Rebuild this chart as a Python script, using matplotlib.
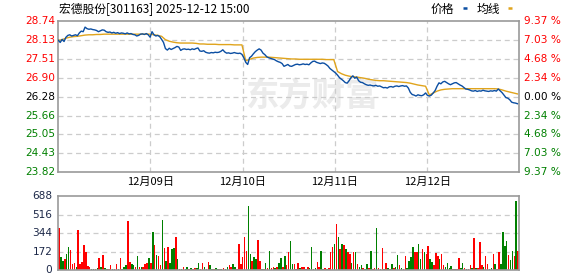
import numpy as np
import matplotlib
matplotlib.use('Agg')
import matplotlib.pyplot as plt
from matplotlib.lines import Line2D

plt.rcParams['font.family'] = ['DejaVu Sans']
CJK = ['Noto Sans CJK SC', 'DejaVu Sans']

title = '宏德股份[301163] 2025-12-12 15:00'
prev_close = 26.28
price_ticks = [28.74, 28.13, 27.51, 26.90, 26.28, 25.66, 25.05, 24.43, 23.82]
pct_labels = ['9.37 %', '7.03 %', '4.68 %', '2.34 %', '0.00 %',
              '2.34 %', '4.68 %', '7.03 %', '9.37 %']
vol_ticks = [0, 172, 344, 516, 688]
day_labels = ['12月09日', '12月10日', '12月11日', '12月12日']
mins_per_day = 241
n_days = 5

# price every 5 minutes over the 5 sessions
price = [
    28.12, 28.05, 28.15, 28.08, 28.22, 28.28, 28.30, 28.26, 28.28, 28.30,
    28.27, 28.36, 28.42, 28.40, 28.55, 28.50, 28.48, 28.49, 28.47, 28.46,
    28.44, 28.40, 28.43, 28.46, 28.45, 28.40, 28.38, 28.39, 28.36, 28.38,
    28.35, 28.37, 28.34, 28.36, 28.35, 28.33, 28.36, 28.33, 28.34, 28.31,
    28.30, 28.26, 28.28, 28.32, 28.33, 28.31, 28.34, 28.30, 28.22,
    28.40, 28.30, 28.26, 28.28, 28.24, 28.15, 28.05, 27.85, 27.80, 27.86,
    27.82, 27.85, 27.88, 27.92, 27.90, 27.79, 27.83, 27.84, 27.82, 27.83,
    27.81, 27.84, 27.82, 27.85, 27.87, 27.77, 27.76, 27.78, 27.73, 27.71,
    27.70, 27.72, 27.71, 27.73, 27.72, 27.73, 27.76, 27.81, 27.74, 27.70,
    27.71, 27.69, 27.70, 27.72, 27.70, 27.69, 27.70, 27.66,
    27.55, 27.40, 27.33, 27.55, 27.60, 27.68, 27.75, 27.80, 27.84, 27.80,
    27.70, 27.65, 27.58, 27.55, 27.53, 27.51, 27.49, 27.45, 27.42, 27.40,
    27.36, 27.27, 27.30, 27.33, 27.28, 27.27, 27.30, 27.33, 27.34, 27.32,
    27.33, 27.35, 27.33, 27.34, 27.32, 27.38, 27.43, 27.44, 27.40, 27.38,
    27.36, 27.38, 27.37, 27.33, 27.28, 27.20, 27.15, 27.10,
    27.05, 26.98, 26.90, 26.85, 26.80, 26.74, 26.72, 26.80, 26.90, 26.96,
    26.88, 26.92, 26.80, 26.75, 26.74, 26.70, 26.67, 26.65, 26.66, 26.64,
    26.63, 26.65, 26.62, 26.63, 26.60, 26.57, 26.58, 26.56, 26.60, 26.61,
    26.59, 26.62, 26.63, 26.61, 26.63, 26.64, 26.62, 26.63, 26.56, 26.42,
    26.35, 26.33, 26.30, 26.34, 26.32, 26.31, 26.34, 26.40,
    26.32, 26.30, 26.33, 26.40, 26.48, 26.62, 26.73, 26.70, 26.76, 26.78,
    26.74, 26.70, 26.67, 26.70, 26.73, 26.74, 26.70, 26.66, 26.63, 26.58,
    26.53, 26.52, 26.50, 26.47, 26.46, 26.48, 26.45, 26.47, 26.46, 26.49,
    26.47, 26.46, 26.45, 26.47, 26.46, 26.48, 26.46, 26.53, 26.47, 26.41,
    26.33, 26.25, 26.23, 26.18, 26.10, 26.08, 26.07, 26.05,
]

# average price line every 10 minutes
avg_price = [
    28.12, 28.14, 28.19, 28.22, 28.24, 28.25, 28.27, 28.29, 28.30, 28.30,
    28.31, 28.31, 28.32, 28.32, 28.32, 28.32, 28.32, 28.32, 28.32, 28.32,
    28.32, 28.32, 28.32, 28.32, 28.32,
    28.30, 28.28, 28.25, 28.14, 28.09, 28.06, 28.04, 28.03, 28.03, 28.03,
    28.03, 28.02, 28.00, 28.00, 27.99, 27.99, 27.99, 27.98, 27.98, 27.98,
    27.98, 27.97, 27.97, 27.97,
    27.45, 27.50, 27.54, 27.56, 27.57, 27.57, 27.57, 27.56, 27.55, 27.54,
    27.53, 27.52, 27.51, 27.51, 27.50, 27.50, 27.50, 27.50, 27.50, 27.50,
    27.50, 27.49, 27.49, 27.49,
    27.10, 27.03, 26.98, 26.95, 26.93, 26.92, 26.90, 26.88, 26.85, 26.83,
    26.81, 26.80, 26.80, 26.79, 26.78, 26.77, 26.76, 26.75, 26.74, 26.72,
    26.69, 26.66, 26.64, 26.62,
    26.33, 26.40, 26.46, 26.50, 26.52, 26.53, 26.54, 26.54, 26.54, 26.54,
    26.54, 26.54, 26.54, 26.54, 26.54, 26.54, 26.54, 26.54, 26.53, 26.50,
    26.46, 26.43, 26.40, 26.37,
]

# volume every 5 minutes, 1 = up (red), 0 = down (green)
volume = [
    396, 118, 86, 102, 150, 214, 191, 54, 70, 32,
    376, 54, 77, 236, 166, 38, 25, 12, 12, 12,
    15, 108, 32, 140, 20, 12, 10, 45, 10, 12,
    54, 10, 108, 10, 32, 45, 453, 77, 54, 45,
    32, 128, 32, 32, 30, 54, 64, 108, 64, 351,
    230, 140, 128, 45, 463, 204, 86, 214, 64, 198,
    204, 309, 102, 10, 12, 32, 10, 32, 10, 15,
    12, 20, 22, 70, 12, 64, 32, 10, 77, 45,
    10, 12, 15, 12, 10, 10, 20, 10, 30, 45,
    32, 54, 32, 12, 246, 54, 118, 309, 182, 597,
    150, 86, 118, 102, 278, 86, 12, 10, 70, 15,
    182, 20, 32, 15, 32, 64, 108, 32, 128, 45,
    172, 268, 54, 54, 12, 64, 20, 32, 32, 12,
    32, 15, 214, 12, 15, 77, 32, 182, 10, 15,
    12, 20, 166, 214, 246, 428, 309, 200, 240, 236,
    198, 166, 150, 70, 172, 172, 54, 32, 45, 20,
    12, 54, 20, 182, 12, 20, 396, 20, 12, 204,
    10, 61, 15, 12, 54, 20, 30, 140, 45, 15,
    12, 128, 15, 86, 118, 214, 172, 166, 246, 102,
    198, 166, 150, 223, 102, 77, 45, 160, 134, 102,
    150, 45, 30, 64, 20, 38, 10, 12, 10, 108,
    20, 64, 15, 10, 12, 45, 20, 300, 20, 15,
    262, 45, 30, 128, 54, 12, 15, 150, 54, 12,
    172, 54, 351, 223, 268, 140, 96, 182, 134, 645,
    182,
]
vol_up = [
    1, 0, 0, 1, 0, 0, 1, 1, 1, 0,
    1, 1, 1, 1, 1, 1, 1, 0, 0, 1,
    0, 1, 0, 1, 0, 0, 1, 1, 0, 1,
    1, 0, 1, 0, 0, 0, 1, 1, 0, 0,
    1, 0, 1, 0, 1, 1, 1, 0, 1, 0,
    1, 0, 1, 1, 0, 1, 0, 1, 0, 0,
    0, 1, 0, 1, 0, 1, 0, 0, 1, 0,
    1, 1, 0, 0, 1, 1, 0, 1, 1, 0,
    0, 1, 0, 0, 1, 0, 1, 0, 0, 1,
    1, 0, 0, 1, 1, 1, 1, 1, 1, 0,
    0, 1, 0, 0, 1, 1, 0, 1, 0, 1,
    0, 1, 1, 0, 1, 0, 0, 1, 0, 1,
    1, 0, 0, 1, 0, 1, 0, 1, 1, 0,
    1, 0, 0, 1, 0, 1, 1, 0, 0, 1,
    0, 1, 1, 1, 0, 1, 0, 1, 0, 1,
    0, 1, 1, 0, 1, 0, 1, 0, 0, 1,
    0, 0, 1, 0, 1, 1, 0, 1, 0, 1,
    0, 1, 0, 1, 0, 1, 0, 0, 1, 0,
    1, 1, 0, 0, 0, 0, 1, 1, 0, 0,
    1, 0, 1, 1, 0, 0, 1, 1, 1, 0,
    1, 1, 0, 0, 0, 0, 1, 0, 1, 1,
    0, 0, 1, 0, 1, 1, 0, 1, 0, 1,
    1, 1, 0, 1, 1, 0, 0, 1, 0, 1,
    1, 0, 0, 0, 0, 1, 0, 0, 1, 0,
    1,
]

W, H = 578, 276
fig = plt.figure(figsize=(W / 100, H / 100), dpi=100)


def box(x0, y0, x1, y1):
    return [x0 / W, 1 - y1 / H, (x1 - x0) / W, (y1 - y0) / H]


total = mins_per_day * n_days
t_price = np.arange(len(price)) * 5
t_avg = np.arange(len(avg_price)) * 10
day_edges = [mins_per_day * k for k in range(1, n_days)]

RED, GREEN, BLACK = '#ff0000', '#008000', '#000000'
GRID = dict(color='#cccccc', ls=(0, (4, 3)), lw=0.9)

ax = fig.add_axes(box(58.3, 21.3, 519.3, 172))
ax.plot(t_price, price, color='#0b4ea2', lw=1.0, zorder=3)
ax.plot(t_avg, avg_price, color='#e0a41c', lw=1.0, zorder=2)
ax.set_xlim(0, total)
ax.set_ylim(price_ticks[-1], price_ticks[0])
for v in price_ticks[1:-1]:
    ax.axhline(v, **GRID, zorder=1)
for e in day_edges:
    ax.axvline(e, **GRID, zorder=1)
ax.set_xticks([])
ax.set_yticks([])
for s in ax.spines.values():
    s.set_color('#999999')
    s.set_linewidth(1.2)

for v, pl in zip(price_ticks, pct_labels):
    c = RED if v > prev_close + 0.001 else (GREEN if v < prev_close - 0.001 else BLACK)
    ax.annotate(f'{v:.2f}', xy=(0, v), xycoords=('axes fraction', 'data'),
                xytext=(-3, 0), textcoords='offset pixels',
                ha='right', va='center', fontsize=7.6, color=c)
    ax.annotate(pl, xy=(1, v), xycoords=('axes fraction', 'data'),
                xytext=(5, 0), textcoords='offset pixels',
                ha='left', va='center', fontsize=7.6, color=c)

for e, lab in zip(day_edges, day_labels):
    ax.annotate(lab, xy=(e, 0), xycoords=('data', 'axes fraction'),
                xytext=(0, -10), textcoords='offset pixels',
                ha='center', va='center', fontsize=8, family=CJK)

# watermark
ax.text(0.55, 0.5, '东方财富', transform=ax.transAxes, ha='center',
        va='center', fontsize=24, fontweight='bold', color='#ebebeb',
        family=CJK, zorder=0)

vax = fig.add_axes(box(58.3, 196.3, 519.3, 270))
colors = [RED if u else GREEN for u in vol_up]
vax.bar(t_price, volume, width=4, color=colors, align='edge', zorder=2)
vax.set_xlim(0, total)
vax.set_ylim(0, vol_ticks[-1])
for v in vol_ticks[1:-1]:
    vax.axhline(v, **GRID, zorder=1)
vax.set_xticks([])
vax.set_yticks([])
for s in vax.spines.values():
    s.set_color('#999999')
    s.set_linewidth(1.2)
for v in vol_ticks:
    vax.annotate(str(v), xy=(0, v), xycoords=('axes fraction', 'data'),
                 xytext=(-6, 0), textcoords='offset pixels',
                 ha='right', va='center', fontsize=7.6, color='#1c2848')

fig.text(59 / W, 1 - 9.5 / H, title, ha='left', va='center',
         fontsize=8.5, family=CJK)
fig.text(442 / W, 1 - 9.5 / H, '价格', ha='center', va='center',
         fontsize=8.5, family=CJK)
fig.text(488.5 / W, 1 - 9.5 / H, '均线', ha='center', va='center',
         fontsize=8.5, family=CJK)
fig.add_artist(Line2D([462.5 / W, 466.5 / W], [1 - 8 / H, 1 - 8 / H],
                      transform=fig.transFigure, lw=1.8, color='#0b4ea2',
                      solid_capstyle='butt'))
fig.add_artist(Line2D([507.5 / W, 512 / W], [1 - 8 / H, 1 - 8 / H],
                      transform=fig.transFigure, lw=1.8, color='#e0a41c',
                      solid_capstyle='butt'))

fig.savefig('out.png', dpi=100)
